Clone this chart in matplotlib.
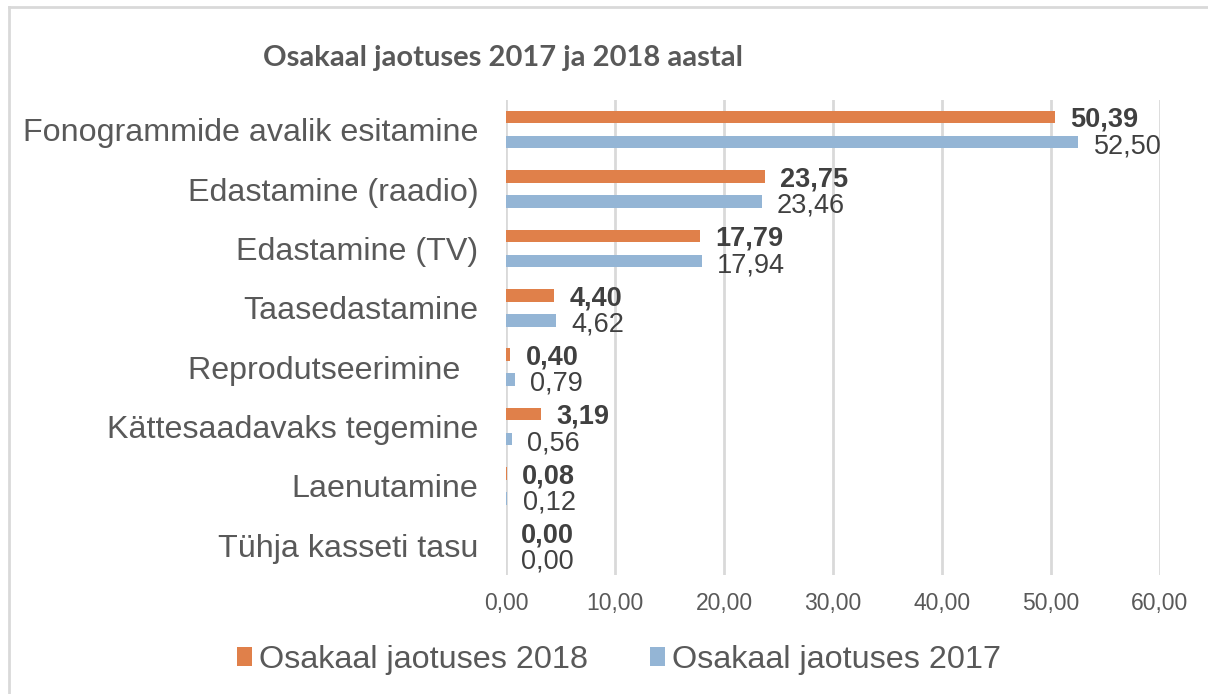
"""Osakaal jaotuses 2017 ja 2018 aastal - horizontal grouped bars."""
import matplotlib
matplotlib.use("Agg")
import matplotlib.pyplot as plt
from matplotlib.lines import Line2D
import numpy as np

# data
categories = [
    "Fonogrammide avalik esitamine",
    "Edastamine (raadio)",
    "Edastamine (TV)",
    "Taasedastamine",
    "Reprodutseerimine  ",
    "Kättesaadavaks tegemine",
    "Laenutamine",
    "Tühja kasseti tasu",
]
share_2018 = [50.39, 23.75, 17.79, 4.40, 0.40, 3.19, 0.08, 0.00]
share_2017 = [52.50, 23.46, 17.94, 4.62, 0.79, 0.56, 0.12, 0.00]
series_names = ["Osakaal jaotuses 2018", "Osakaal jaotuses 2017"]
x_ticks = [0, 10, 20, 30, 40, 50, 60]

# colours
orange = "#E0804A"
blue = "#94B5D5"
grid_col = "#D9D9D9"
text_col = "#595959"
label_col = "#404040"

plt.rcParams["font.family"] = ["Liberation Sans", "DejaVu Sans"]

fig = plt.figure(figsize=(12.08, 6.94), dpi=100)
ax = fig.add_axes([506 / 1208, 1 - 575 / 694, 654 / 1208, 475 / 694])

y = np.arange(len(categories))
bar_h = 0.21
off = 0.21
ax.barh(y - off, share_2018, height=bar_h, color=orange, label=series_names[0])
ax.barh(y + off, share_2017, height=bar_h, color=blue, label=series_names[1])

# value labels, decimal comma
def fmt(v):
    return f"{v:.2f}".replace(".", ",")

for yi, v in zip(y, share_2018):
    ax.annotate(fmt(v), (v, yi - off), xytext=(11, -2), textcoords="offset points",
                va="center", ha="left", fontsize=19.5, fontweight="bold", color=label_col)
for yi, v in zip(y, share_2017):
    ax.annotate(fmt(v), (v, yi + off), xytext=(11, -3), textcoords="offset points",
                va="center", ha="left", fontsize=19.5, color=label_col)

ax.set_xlim(0, 60)
ax.set_ylim(len(categories) - 0.5, -0.5)
ax.set_xticks(x_ticks)
ax.set_xticklabels([fmt(t) for t in x_ticks], fontsize=16.5, color=text_col)
ax.set_yticks(y)
ax.set_yticklabels(categories, fontsize=23.2, color=text_col)
ax.tick_params(axis="both", length=0)
ax.tick_params(axis="x", pad=12)
ax.tick_params(axis="y", pad=20)
ax.xaxis.grid(True, color=grid_col, linewidth=2)
ax.set_axisbelow(True)
for s in ax.spines.values():
    s.set_visible(False)

# title
fig.text(503 / 1208, 1 - 58 / 694, "Osakaal jaotuses 2017 ja 2018 aastal",
         family=["Lato", "DejaVu Sans"], fontweight="bold", fontsize=21,
         color=text_col, ha="center", va="center")

# legend
fig.legend(loc="center", bbox_to_anchor=(619 / 1208, 1 - 660 / 694), ncol=2,
           frameon=False, fontsize=23.3, labelcolor=text_col,
           handlelength=0.47, handleheight=0.5, handletextpad=0.22,
           columnspacing=1.9)

# chart border (left and top edges visible)
fig.add_artist(Line2D([8.5 / 1208, 8.5 / 1208], [0, 1 - 7 / 694],
                      transform=fig.transFigure, color=grid_col, linewidth=2))
fig.add_artist(Line2D([8.5 / 1208, 1], [1 - 7 / 694, 1 - 7 / 694],
                      transform=fig.transFigure, color=grid_col, linewidth=2))

fig.savefig("out.png", dpi=100)
